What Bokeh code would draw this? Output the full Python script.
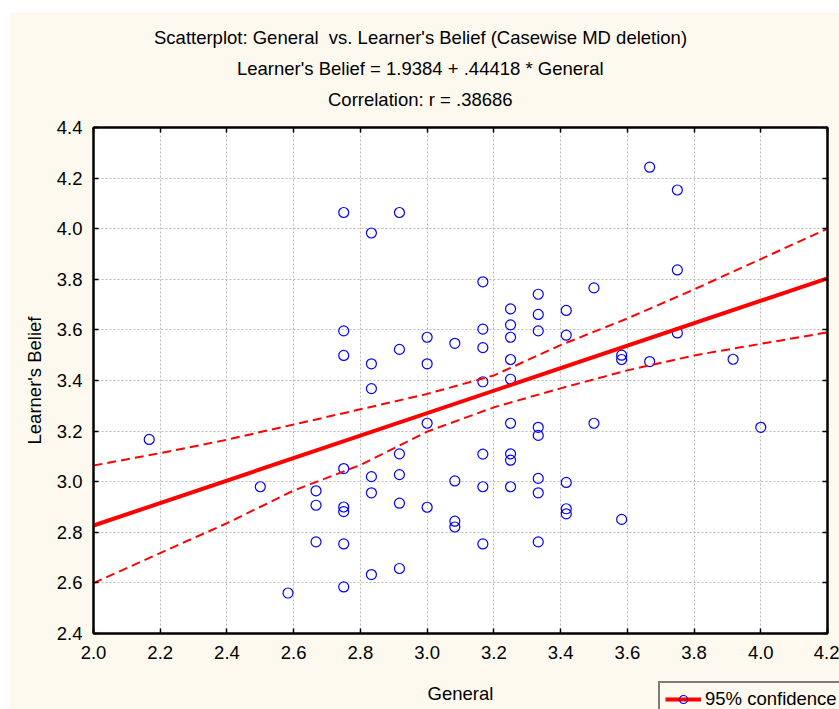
import numpy as np
from bokeh.plotting import figure
from bokeh.models import (LinearAxis, FixedTicker, PrintfTickFormatter,
                          CustomJSTickFormatter, Legend, LegendItem, Range1d,
                          Spacer, Title)
from bokeh.layouts import column, row
from bokeh.embed import file_html
from bokeh.resources import INLINE

# ---------------- data ----------------
general = [2.167, 2.5, 2.583, 2.667, 2.667, 2.667,
           2.75, 2.75, 2.75, 2.75, 2.75, 2.75, 2.75, 2.75,
           2.833, 2.833, 2.833, 2.833, 2.833, 2.833,
           2.917, 2.917, 2.917, 2.917, 2.917, 2.917,
           3.0, 3.0, 3.0, 3.0,
           3.083, 3.083, 3.083, 3.083,
           3.167, 3.167, 3.167, 3.167, 3.167, 3.167, 3.167,
           3.25, 3.25, 3.25, 3.25, 3.25, 3.25, 3.25, 3.25, 3.25,
           3.333, 3.333, 3.333, 3.333, 3.333, 3.333, 3.333, 3.333,
           3.417, 3.417, 3.417, 3.417, 3.417,
           3.5, 3.5,
           3.583, 3.583, 3.583,
           3.667, 3.667,
           3.75, 3.75, 3.75,
           3.917, 4.0]
belief = [3.167, 2.980, 2.560, 2.964, 2.907, 2.762,
          4.064, 3.596, 3.499, 3.052, 2.900, 2.882, 2.754, 2.584,
          3.983, 3.466, 3.368, 3.020, 2.956, 2.633,
          4.064, 3.523, 3.110, 3.028, 2.915, 2.657,
          3.571, 3.466, 3.231, 2.899,
          3.547, 3.003, 2.844, 2.821,
          3.790, 3.603, 3.530, 3.395, 3.109, 2.980, 2.754,
          3.683, 3.620, 3.571, 3.483, 3.405, 3.231, 3.110, 3.085, 2.980,
          3.741, 3.661, 3.596, 3.215, 3.183, 3.013, 2.956, 2.762,
          3.677, 3.579, 2.997, 2.893, 2.873,
          3.766, 3.231,
          3.500, 3.483, 2.851,
          4.243, 3.475,
          4.153, 3.837, 3.588,
          3.484, 3.215]

intercept = 1.9384
slope = 0.44418

band_x = [2.0, 2.2, 2.4, 2.6, 2.8, 3.0, 3.2, 3.4, 3.6, 3.8, 4.0, 4.2]
band_upper = [3.064, 3.113, 3.166, 3.226, 3.286, 3.347, 3.420, 3.540, 3.645, 3.760, 3.880, 4.000]
band_lower = [2.599, 2.718, 2.836, 2.965, 3.066, 3.198, 3.294, 3.369, 3.440, 3.499, 3.545, 3.590]

x_ticks = [2.0, 2.2, 2.4, 2.6, 2.8, 3.0, 3.2, 3.4, 3.6, 3.8, 4.0, 4.2]
y_ticks = [2.4, 2.6, 2.8, 3.0, 3.2, 3.4, 3.6, 3.8, 4.0, 4.2, 4.4]

title_lines = ["Scatterplot: General\u00a0 vs. Learner's Belief (Casewise MD deletion)",
               "Learner's Belief = 1.9384 + .44418 * General",
               "Correlation: r = .38686"]
# approximate rendered widths (px) of the title lines, used to centre them
title_widths = [533, 367, 185]
legend_label = "95% confidence"

# ---------------- style ----------------
CREAM = "#FDF9EE"
FONT = "Liberation Sans"
FS = "18.5px"
X0, X1 = 2.0, 4.2
Y0, Y1 = 2.4, 4.4

p = figure(width=830, height=697, title=None,
           x_range=Range1d(X0, X1), y_range=Range1d(Y0, Y1),
           output_backend="svg", toolbar_location=None,
           min_border_left=84, min_border_right=12,
           min_border_top=115, min_border_bottom=76,
           background_fill_color="white", border_fill_color=CREAM,
           outline_line_color="black", outline_line_width=2,
           x_axis_label="General", y_axis_label="Learner's Belief")

xt = FixedTicker(ticks=x_ticks)
yt = FixedTicker(ticks=y_ticks)


def style_axis(ax, ticker, show_labels=True):
    ax.ticker = ticker
    ax.major_tick_in = 5
    ax.major_tick_out = 0
    ax.major_tick_line_color = "black"
    ax.major_tick_line_width = 1.5
    ax.minor_tick_line_color = None
    ax.axis_line_color = "black"
    ax.axis_line_width = 2
    ax.major_label_text_font = FONT
    ax.major_label_text_color = "black"
    ax.major_label_text_font_size = FS
    if show_labels:
        ax.formatter = PrintfTickFormatter(format="%.1f")
    else:
        ax.formatter = CustomJSTickFormatter(code="return ''")
        ax.major_label_standoff = 0
    ax.axis_label_text_font = FONT
    ax.axis_label_text_font_size = FS
    ax.axis_label_text_font_style = "normal"
    ax.axis_label_text_color = "black"


style_axis(p.xaxis[0], xt)
style_axis(p.yaxis[0], yt)
p.xaxis[0].major_label_standoff = 12
p.yaxis[0].major_label_standoff = 11
p.xaxis[0].axis_label_standoff = 21
p.yaxis[0].axis_label_standoff = 9

top_ax = LinearAxis()
style_axis(top_ax, xt, show_labels=False)
p.add_layout(top_ax, "above")
right_ax = LinearAxis()
style_axis(right_ax, yt, show_labels=False)
p.add_layout(right_ax, "right")

p.xgrid.ticker = xt
p.ygrid.ticker = yt
for g in (p.xgrid, p.ygrid):
    g.grid_line_color = "#b8b8b8"
    g.grid_line_dash = "2 2"
    g.grid_line_width = 1

# scatter
sc_kw = dict(marker="circle", size=10, fill_color=None,
             line_color="#0000FF", line_width=1.2)
p.scatter(general, belief, **sc_kw)

# regression line
fit_x = np.array([X0, X1])
fit_y = intercept + slope * fit_x
fit_kw = dict(line_color="#FF0000", line_width=4)
p.line(fit_x, fit_y, **fit_kw)

# confidence bands
p.line(band_x, band_upper, line_color="#FF0000", line_width=2, line_dash="9 5")
p.line(band_x, band_lower, line_color="#FF0000", line_width=2, line_dash="9 5")

# titles: a small gap above the frame, then the three lines (nearest first)
p.add_layout(Title(text=" ", text_font_size="1px", standoff=11), "above")
CENTER = 420 - 93
for txt, w in reversed(list(zip(title_lines, title_widths))):
    p.add_layout(Title(text=txt, align="left", offset=CENTER - w / 2,
                       standoff=8, text_font=FONT, text_font_size=FS,
                       text_font_style="normal", text_color="black"), "above")

# ---------------- legend (small overlapping figure, cut at the window edge) ----
# its renderers reuse the chart's data but lie outside the legend panel's ranges
lf = figure(width=182, height=29, output_backend="svg", toolbar_location=None,
            x_range=Range1d(0, 1), y_range=Range1d(0, 1),
            x_axis_type=None, y_axis_type=None, min_border=0,
            outline_line_color=None, background_fill_color=CREAM,
            border_fill_color=CREAM)
lf.xgrid.visible = False
lf.ygrid.visible = False
l_line = lf.line(fit_x, fit_y, **fit_kw)
l_pts = lf.scatter(general, belief, **sc_kw)
legend = Legend(items=[LegendItem(label=legend_label, renderers=[l_line, l_pts])],
                location="top_left", orientation="vertical",
                border_line_color="black", border_line_width=2,
                background_fill_color=CREAM, background_fill_alpha=1,
                label_text_font=FONT, label_text_font_size=FS,
                label_text_color="black",
                glyph_width=36, glyph_height=20, label_height=20,
                padding=5, margin=1, spacing=0, label_standoff=4)
lf.add_layout(legend)

layout = column(Spacer(height=12),
                row(Spacer(width=9), p),
                row(Spacer(width=657), lf, margin=(-29, 0, 0, 0)))
open("out.html", "w").write(file_html(layout, INLINE))
